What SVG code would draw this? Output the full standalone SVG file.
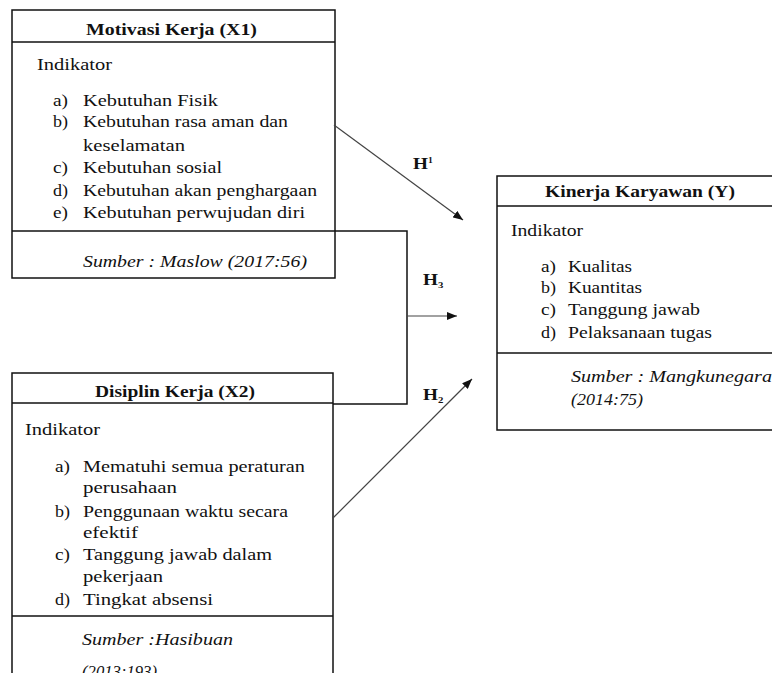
<svg xmlns="http://www.w3.org/2000/svg" width="772" height="673" viewBox="0 0 772 673">
<style>
.box{fill:#fff;stroke:#111;stroke-width:1.5}
.ln{stroke:#111;stroke-width:1.5;fill:none}
.t{font-family:"Liberation Serif","Times New Roman",serif;font-size:16px;fill:#111}
.b{font-weight:bold}
.i{font-style:italic}
.c{text-anchor:middle}
.arr{stroke:#444;stroke-width:1.2;fill:none;marker-end:url(#ah)}
.h{font-family:"Liberation Serif","Times New Roman",serif;font-size:16px;font-weight:bold;fill:#111}
</style>
<defs>
<marker id="ah" viewBox="0 0 10 8" refX="10" refY="4" markerWidth="10" markerHeight="8" markerUnits="userSpaceOnUse" orient="auto">
<path d="M0,0 L10,4 L0,8 Z" fill="#111"/>
</marker>
</defs>
<rect width="772" height="673" fill="#fff"/>

<g id="x1">
<rect class="box" x="12" y="10" width="323" height="268"/>
<line class="ln" x1="12" y1="42" x2="335" y2="42"/>
<line class="ln" x1="12" y1="231" x2="335" y2="231"/>
<text class="t b c" transform="translate(171.5,35) scale(1.25,1)" textLength="136.8" lengthAdjust="spacingAndGlyphs">Motivasi Kerja (X1)</text>
<text class="t" transform="translate(37,70) scale(1.25,1)" textLength="60" lengthAdjust="spacingAndGlyphs">Indikator</text>
<text class="t" transform="translate(53,106) scale(1.25,1)" textLength="12" lengthAdjust="spacingAndGlyphs">a)</text>
<text class="t" transform="translate(83,106) scale(1.25,1)" textLength="108" lengthAdjust="spacingAndGlyphs">Kebutuhan Fisik</text>
<text class="t" transform="translate(53,127) scale(1.25,1)" textLength="12" lengthAdjust="spacingAndGlyphs">b)</text>
<text class="t" transform="translate(83,127) scale(1.25,1)" textLength="164" lengthAdjust="spacingAndGlyphs">Kebutuhan rasa aman dan</text>
<text class="t" transform="translate(83,151) scale(1.25,1)" textLength="81.6" lengthAdjust="spacingAndGlyphs">keselamatan</text>
<text class="t" transform="translate(53,173) scale(1.25,1)" textLength="12" lengthAdjust="spacingAndGlyphs">c)</text>
<text class="t" transform="translate(83,173) scale(1.25,1)" textLength="111.2" lengthAdjust="spacingAndGlyphs">Kebutuhan sosial</text>
<text class="t" transform="translate(53,196) scale(1.25,1)" textLength="12" lengthAdjust="spacingAndGlyphs">d)</text>
<text class="t" transform="translate(83,196) scale(1.25,1)" textLength="187.2" lengthAdjust="spacingAndGlyphs">Kebutuhan akan penghargaan</text>
<text class="t" transform="translate(53,218) scale(1.25,1)" textLength="12" lengthAdjust="spacingAndGlyphs">e)</text>
<text class="t" transform="translate(83,218) scale(1.25,1)" textLength="177.6" lengthAdjust="spacingAndGlyphs">Kebutuhan perwujudan diri</text>
<text class="t i" transform="translate(83,267) scale(1.25,1)" textLength="179.2" lengthAdjust="spacingAndGlyphs">Sumber : Maslow (2017:56)</text>
</g>

<g id="y">
<rect class="box" x="497" y="176" width="290" height="254"/>
<line class="ln" x1="497" y1="206" x2="787" y2="206"/>
<line class="ln" x1="497" y1="353" x2="787" y2="353"/>
<text class="t b" transform="translate(545,197) scale(1.25,1)" textLength="152" lengthAdjust="spacingAndGlyphs">Kinerja Karyawan (Y)</text>
<text class="t" transform="translate(511,236) scale(1.25,1)" textLength="57.6" lengthAdjust="spacingAndGlyphs">Indikator</text>
<text class="t" transform="translate(541,272) scale(1.25,1)" textLength="12" lengthAdjust="spacingAndGlyphs">a)</text>
<text class="t" transform="translate(568,272) scale(1.25,1)" textLength="51.2" lengthAdjust="spacingAndGlyphs">Kualitas</text>
<text class="t" transform="translate(541,293) scale(1.25,1)" textLength="12" lengthAdjust="spacingAndGlyphs">b)</text>
<text class="t" transform="translate(568,293) scale(1.25,1)" textLength="59.2" lengthAdjust="spacingAndGlyphs">Kuantitas</text>
<text class="t" transform="translate(541,315) scale(1.25,1)" textLength="12" lengthAdjust="spacingAndGlyphs">c)</text>
<text class="t" transform="translate(568,315) scale(1.25,1)" textLength="105.6" lengthAdjust="spacingAndGlyphs">Tanggung jawab</text>
<text class="t" transform="translate(541,338) scale(1.25,1)" textLength="12" lengthAdjust="spacingAndGlyphs">d)</text>
<text class="t" transform="translate(568,338) scale(1.25,1)" textLength="115.2" lengthAdjust="spacingAndGlyphs">Pelaksanaan tugas</text>
<text class="t i" transform="translate(571,382) scale(1.25,1)" textLength="160.8" lengthAdjust="spacingAndGlyphs">Sumber : Mangkunegara</text>
<text class="t i" transform="translate(571,405) scale(1.25,1)" textLength="57.6" lengthAdjust="spacingAndGlyphs">(2014:75)</text>
</g>

<g id="x2">
<rect class="box" x="12" y="373" width="321" height="310"/>
<line class="ln" x1="12" y1="403" x2="333" y2="403"/>
<line class="ln" x1="12" y1="616" x2="333" y2="616"/>
<text class="t b c" transform="translate(175,397) scale(1.25,1)" textLength="128" lengthAdjust="spacingAndGlyphs">Disiplin Kerja (X2)</text>
<text class="t" transform="translate(25,435) scale(1.25,1)" textLength="60" lengthAdjust="spacingAndGlyphs">Indikator</text>
<text class="t" transform="translate(55,472) scale(1.25,1)" textLength="12" lengthAdjust="spacingAndGlyphs">a)</text>
<text class="t" transform="translate(83,472) scale(1.25,1)" textLength="177.6" lengthAdjust="spacingAndGlyphs">Mematuhi semua peraturan</text>
<text class="t" transform="translate(83,493) scale(1.25,1)" textLength="75.2" lengthAdjust="spacingAndGlyphs">perusahaan</text>
<text class="t" transform="translate(55,517) scale(1.25,1)" textLength="12" lengthAdjust="spacingAndGlyphs">b)</text>
<text class="t" transform="translate(83,517) scale(1.25,1)" textLength="164" lengthAdjust="spacingAndGlyphs">Penggunaan waktu secara</text>
<text class="t" transform="translate(83,538) scale(1.25,1)" textLength="44" lengthAdjust="spacingAndGlyphs">efektif</text>
<text class="t" transform="translate(55,560) scale(1.25,1)" textLength="12" lengthAdjust="spacingAndGlyphs">c)</text>
<text class="t" transform="translate(83,560) scale(1.25,1)" textLength="151.2" lengthAdjust="spacingAndGlyphs">Tanggung jawab dalam</text>
<text class="t" transform="translate(83,582) scale(1.25,1)" textLength="64" lengthAdjust="spacingAndGlyphs">pekerjaan</text>
<text class="t" transform="translate(55,605) scale(1.25,1)" textLength="12" lengthAdjust="spacingAndGlyphs">d)</text>
<text class="t" transform="translate(83,605) scale(1.25,1)" textLength="104" lengthAdjust="spacingAndGlyphs">Tingkat absensi</text>
<text class="t i" transform="translate(82,645) scale(1.25,1)" textLength="120.8" lengthAdjust="spacingAndGlyphs">Sumber :Hasibuan</text>
<text class="t i" transform="translate(82,677) scale(1.25,1)" textLength="60" lengthAdjust="spacingAndGlyphs">(2013:193)</text>
</g>

<g id="connectors">
<line class="arr" x1="334" y1="125" x2="463" y2="220"/>
<path class="ln" d="M335,231 H407 V404 H333"/>
<line class="arr" x1="407" y1="316" x2="457" y2="316"/>
<line class="arr" x1="333" y1="518" x2="472" y2="379"/>
<text class="h" transform="translate(413,169) scale(1.2,1)">H<tspan font-size="8" dy="-6">1</tspan></text>
<text class="h" transform="translate(423,285) scale(1.2,1)">H<tspan font-size="9" dy="3">3</tspan></text>
<text class="h" transform="translate(423,400) scale(1.2,1)">H<tspan font-size="9" dy="3">2</tspan></text>
</g>
</svg>
